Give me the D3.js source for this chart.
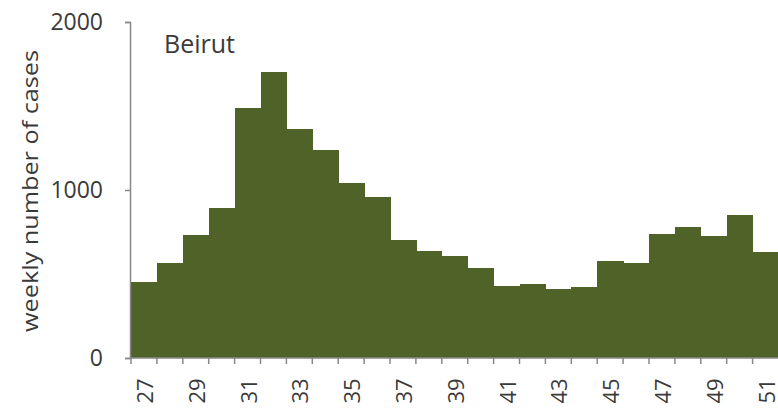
<!DOCTYPE html>
<html>
<head>
<meta charset="utf-8">
<script src="https://cdn.jsdelivr.net/npm/d3@7"></script>
<style>
  body { margin: 0; background: #fff; }
  text { font-family: "Open Sans", Lato, sans-serif; fill: #3a3a3a; }
</style>
</head>
<body>
<div id="chart"></div>
<script>
// epidemiological weeks and weekly case counts
var weeks = [27, 28, 29, 30, 31, 32, 33, 34, 35, 36, 37, 38, 39,
             40, 41, 42, 43, 44, 45, 46, 47, 48, 49, 50, 51];
var cases = [450, 565, 732, 893, 1490, 1702, 1365, 1238, 1042, 960, 705, 635, 605,
             535, 430, 440, 410, 420, 577, 567, 738, 780, 726, 851, 631];
var yTicks = [0, 1000, 2000];
var region = "Beirut";

var width = 778, height = 414;
var mLeft = 131, mRight = 778.5, mTop = 22, mBottom = 358;

var svg = d3.select("#chart").append("svg")
    .attr("width", width)
    .attr("height", height);

var x = d3.scaleBand().domain(weeks).range([mLeft, mRight]).padding(0);
var y = d3.scaleLinear().domain([0, 2000]).range([mBottom, mTop]);

// bars, drawn edge to edge like a histogram
svg.selectAll("rect.bar")
    .data(weeks)
    .enter().append("rect")
    .attr("class", "bar")
    .attr("x", function (d) { return x(d); })
    .attr("width", x.bandwidth() + 0.6)
    .attr("y", function (d, i) { return y(cases[i]); })
    .attr("height", function (d, i) { return mBottom - y(cases[i]); })
    .attr("fill", "#4f6228")
    .attr("shape-rendering", "crispEdges");

// y axis
var yAxis = d3.axisLeft(y).tickValues(yTicks).tickFormat(d3.format("d"))
    .tickSize(5).tickPadding(22);
var gy = svg.append("g").attr("transform", "translate(" + (mLeft - 1) + ",0)").call(yAxis);
gy.select(".domain").attr("stroke", "#888").attr("stroke-width", 1.5);
gy.selectAll(".tick line").attr("stroke", "#888").attr("stroke-width", 1.5);
gy.selectAll(".tick text")
    .style("font-size", "23px")
    .style("font-family", "'Open Sans', sans-serif")
    .attr("fill", "#3a3a3a");

// x axis: ticks on week boundaries, labels on every other week
var gx = svg.append("g").attr("transform", "translate(0," + mBottom + ")");
gx.append("line")
    .attr("x1", mLeft - 1).attr("x2", mRight)
    .attr("stroke", "#888").attr("stroke-width", 1.5);
gx.selectAll("line.tk")
    .data(weeks)
    .enter().append("line")
    .attr("class", "tk")
    .attr("x1", function (d) { return x(d); })
    .attr("x2", function (d) { return x(d); })
    .attr("y1", 0).attr("y2", 6)
    .attr("stroke", "#888").attr("stroke-width", 1.5);
gx.selectAll("text")
    .data(weeks.filter(function (d) { return d % 2 === 1; }))
    .enter().append("text")
    .attr("transform", function (d) {
        return "translate(" + (x(d) + x.bandwidth() / 2) + ",33) rotate(-90)";
    })
    .attr("text-anchor", "middle")
    .attr("dominant-baseline", "central")
    .style("font-size", "22px")
    .text(function (d) { return d; });

// axis title
svg.append("text")
    .attr("transform", "translate(29,191) rotate(-90)")
    .attr("text-anchor", "middle")
    .attr("dominant-baseline", "central")
    .attr("textLength", 282)
    .attr("lengthAdjust", "spacingAndGlyphs")
    .style("font-size", "22px")
    .text("weekly number of cases");

// panel label
svg.append("text")
    .attr("x", 164).attr("y", 53)
    .style("font-size", "25px")
    .text(region);
</script>
</body>
</html>
